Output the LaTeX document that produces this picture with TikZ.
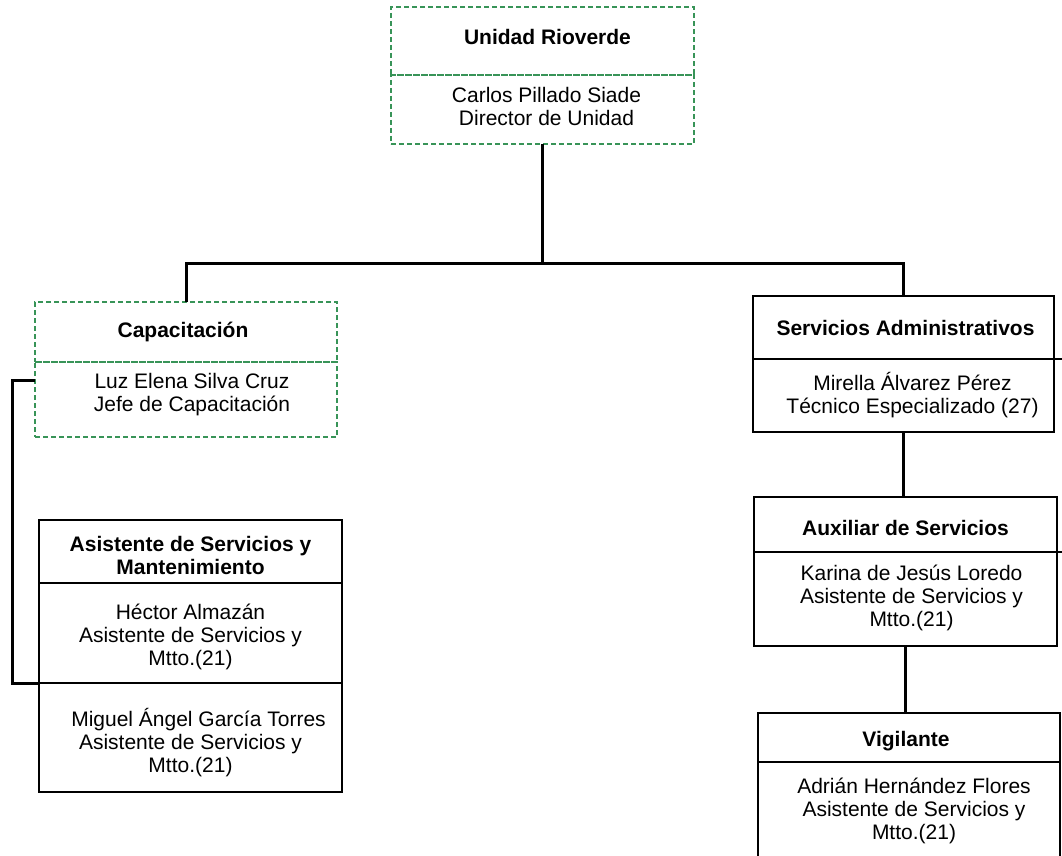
\documentclass[tikz,border=0pt]{standalone}
\usepackage{fontspec}
\setmainfont{Liberation Sans}
\definecolor{dashgreen}{RGB}{56,148,88}
\begin{document}
\begin{tikzpicture}[x=1pt,y=-1pt,
  sect/.style={rectangle, outer sep=0pt, inner sep=0pt, anchor=north west},
  dbox/.style={sect, draw=dashgreen, dash pattern=on 5pt off 3pt, line width=1.3pt},
  sbox/.style={sect, draw=black, line width=1.6pt},
  txt/.style={align=center, inner sep=0pt, font=\fontsize{21}{23}\selectfont},
  ttl/.style={txt, font=\fontsize{21}{23}\selectfont\bfseries},
  conn/.style={draw=black, line width=3pt},
  tick/.style={draw=black, line width=1.6pt}]
\useasboundingbox (0,0) rectangle (1062,856);
\clip (0,0) rectangle (1062,856);

% Director
\node[dbox, minimum width=303, minimum height=68] (toph) at (391,7) {};
\node[dbox, minimum width=303, minimum height=69] (topb) at (391,75) {};
\node[ttl, xshift=5, yshift=4] (topt) at (toph.center) {Unidad Rioverde};
\node[txt, xshift=4, yshift=3] (topn) at (topb.center) {Carlos Pillado Siade\\Director de Unidad};

% Capacitacion
\node[dbox, minimum width=302, minimum height=60] (caph) at (35,302) {};
\node[dbox, minimum width=302, minimum height=75] (capb) at (35,362) {};
\node[ttl, xshift=-3] (capt) at (caph.center) {Capacitación};
\node[txt, xshift=6, yshift=5] (capn) at (capb.center) {Luz Elena Silva Cruz\\Jefe de Capacitación};

% Servicios Administrativos
\node[sbox, minimum width=301, minimum height=63] (servh) at (753,296) {};
\node[sbox, minimum width=301, minimum height=73] (servb) at (753,359) {};
\node[ttl, xshift=2] (servt) at (servh.center) {Servicios Administrativos};
\node[txt, xshift=9] (servn) at (servb.center) {Mirella Álvarez Pérez\\Técnico Especializado (27)};

% Auxiliar de Servicios
\node[sbox, minimum width=303, minimum height=55] (auxh) at (754,497) {};
\node[sbox, minimum width=303, minimum height=94] (auxb) at (754,552) {};
\node[ttl, yshift=-3] (auxt) at (auxh.center) {Auxiliar de Servicios};
\node[txt, xshift=6, yshift=1] (auxn) at (auxb.center)
  {Karina de Jesús Loredo\\Asistente de Servicios y\\Mtto.(21)};

% Vigilante
\node[sbox, minimum width=302, minimum height=49] (vigh) at (758,713) {};
\node[sbox, minimum width=302, minimum height=98] (vigb) at (758,762) {};
\node[ttl, xshift=-3, yshift=-4] (vigt) at (vigh.center) {Vigilante};
\node[txt, xshift=5] (vign) at (vigb.center)
  {Adrián Hernández Flores\\Asistente de Servicios y\\Mtto.(21)};

% Asistente de Servicios y Mantenimiento
\node[sbox, minimum width=303, minimum height=63] (asish) at (39,520) {};
\node[sbox, minimum width=303, minimum height=100] (hecb) at (39,583) {};
\node[sbox, minimum width=303, minimum height=109] (migb) at (39,683) {};
\node[ttl, yshift=-4] (asist) at (asish.center) {Asistente de Servicios y\\Mantenimiento};
\node[txt, yshift=-4] (hecn) at (hecb.center) {Héctor Almazán\\Asistente de Servicios y\\Mtto.(21)};
\node[txt, yshift=-5] (mign) at (migb.center)
  {\hspace*{16pt}Miguel Ángel García Torres\\Asistente de Servicios y\\Mtto.(21)};

% Connectors
\coordinate (bus) at (544,263);
\coordinate (lft) at (12,380);
\coordinate (sxr) at (1062,359);
\coordinate (axr) at (1062,552);
\draw[conn] (topb.south) -- (topb.south |- bus);
\draw[conn] (caph.north) |- (bus) -| (servh.north);
\draw[conn] (capb.west |- lft) -- (lft) |- (hecb.south west);
\draw[conn] (servb.south) -- (servb.south |- auxh.north);
\draw[conn] (auxb.south) -- (auxb.south |- vigh.north);
\draw[tick] (servb.north east) -- (sxr);
\draw[tick] (auxb.north east) -- (axr);
\end{tikzpicture}
\end{document}
